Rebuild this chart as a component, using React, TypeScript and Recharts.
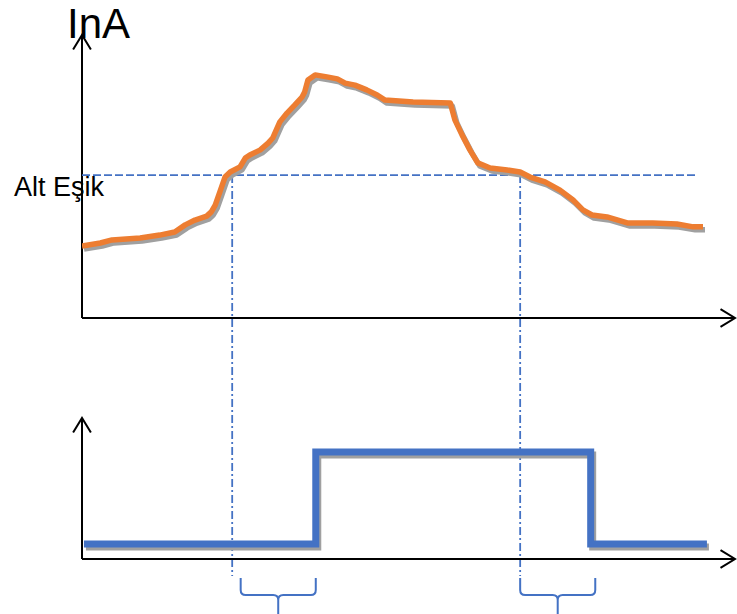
import { ComposedChart, Line, XAxis, YAxis, ReferenceLine } from 'recharts';

// current curve (time 0..100, InA arbitrary units)
const TIME = [
  0, 2.8, 4.6, 8.9, 11.9, 14.2, 15.8, 17.3, 19.1, 19.8, 20.4, 21.1, 21.9, 22.7, 24.2, 25.0, 25.7, 27.3,
  28.5, 29.2, 30.3, 31.4, 32.6, 33.7, 34.1, 34.6, 35.7, 37.5, 39.1, 40.3, 41.8, 43.6, 45.2, 46.4, 50.7,
  56.4, 57.1, 58.2, 59.4, 60.6, 62.5, 65.1, 67.1, 68.6, 70.9, 73.2, 75.2, 76.7, 78.1, 80.4, 83.5, 87.4,
  91.1, 93.6, 95.1,
];
const CURRENT = [
  25.4, 26.5, 27.6, 28.3, 29.3, 30.4, 32.9, 34.6, 36.0, 37.5, 39.9, 44.5, 49.8, 51.6, 53.4, 56.5, 57.6,
  59.4, 61.8, 63.6, 69.3, 72.4, 75.3, 78.1, 79.9, 84.1, 85.9, 85.2, 84.5, 83.0, 82.3, 80.6, 78.8, 77.0,
  76.3, 76.0, 70.0, 64.7, 59.4, 54.8, 53.0, 52.3, 51.6, 49.8, 48.1, 45.2, 41.7, 38.2, 36.4, 35.7, 33.6,
  33.6, 33.2, 32.2, 32.2,
];
const THRESHOLD = 50.5;
const THRESHOLD_LABEL = 'Alt Eşik';
const AXIS_LABEL = 'InA';

// relay output
const STEP_TIME = [0.3, 35.8, 77.9, 95.7];
const STEP_STATE = [0, 1, 0, 0];

// threshold crossings and delay braces
const CROSS_TIME = [23.0, 67.1];
const DELAY_START = [24.3, 67.1];
const DELAY_END = [35.8, 78.6];

// axis layout in data units
const INA_DOMAIN = [-104.6, 100];
const CROSS_BOTTOM = -91.2;
const STATE_DOMAIN = [-0.761, 5.533];
const STATE_AXIS = -0.163;
const STATE_AXIS_TOP = 1.37;
const BRACE_LEVEL = -0.37;

const ORANGE = '#ED7D31';
const BLUE = '#4472C4';
const SHADOW = '#A0A0A0';

const currentData = TIME.map((t, i) => ({ t, v: CURRENT[i] }));
const stepData = STEP_TIME.map((t, i) => ({ t, s: STEP_STATE[i] }));

function ArrowShape(props: any) {
  const { x1, y1, x2, y2 } = props;
  const a = Math.atan2(y2 - y1, x2 - x1);
  const len = 17;
  const spread = 0.55;
  const w1x = x2 - len * Math.cos(a - spread);
  const w1y = y2 - len * Math.sin(a - spread);
  const w2x = x2 - len * Math.cos(a + spread);
  const w2y = y2 - len * Math.sin(a + spread);
  return (
    <g>
      <line x1={x1} y1={y1} x2={x2} y2={y2} stroke="#000" strokeWidth={2} />
      <polyline
        points={`${w1x},${w1y} ${x2},${y2} ${w2x},${w2y}`}
        fill="none"
        stroke="#000"
        strokeWidth={2}
      />
    </g>
  );
}

function BraceShape(props: any) {
  const { x1, y1, x2 } = props;
  const left = Math.min(x1, x2);
  const right = Math.max(x1, x2);
  const mid = (left + right) / 2;
  const y = y1;
  const d =
    `M${left},${y} L${left},${y + 12} Q${left},${y + 17} ${left + 5},${y + 17} ` +
    `L${mid - 5},${y + 17} Q${mid},${y + 17} ${mid},${y + 22} L${mid},${y + 36} ` +
    `M${right},${y} L${right},${y + 12} Q${right},${y + 17} ${right - 5},${y + 17} ` +
    `L${mid + 5},${y + 17} Q${mid},${y + 17} ${mid},${y + 22}`;
  return <path d={d} fill="none" stroke={BLUE} strokeWidth={2} />;
}

export default function App() {
  return (
    <div style={{ position: 'absolute', left: 0, top: 0, width: 737, height: 614, background: '#fff' }}>
      <style>{`.shadow-shift { transform: translate(2px, 3px); }`}</style>
      <ComposedChart width={737} height={614} margin={{ top: 35, right: 2, bottom: 0, left: 82 }}>
        <XAxis type="number" dataKey="t" domain={[0, 100]} hide allowDataOverflow />
        <YAxis yAxisId="ina" type="number" domain={INA_DOMAIN} hide allowDataOverflow />
        <YAxis yAxisId="state" type="number" domain={STATE_DOMAIN} hide allowDataOverflow />

        {/* top panel axes */}
        <ReferenceLine
          yAxisId="ina"
          segment={[{ x: 0, y: 0 }, { x: 0, y: 100 }]}
          shape={ArrowShape}
          label={(p: any) => (
            <text
              x={p.viewBox.x - 15}
              y={p.viewBox.y + 3}
              fontFamily="Liberation Sans, Arial, sans-serif"
              fontSize={42}
              fill="#000"
            >
              {AXIS_LABEL}
            </text>
          )}
        />
        <ReferenceLine yAxisId="ina" segment={[{ x: 0, y: 0 }, { x: 100, y: 0 }]} shape={ArrowShape} />

        {/* threshold */}
        <ReferenceLine
          yAxisId="ina"
          segment={[{ x: 0, y: THRESHOLD }, { x: 94.2, y: THRESHOLD }]}
          stroke={BLUE}
          strokeWidth={1.8}
          strokeDasharray="8 3"
          label={(p: any) => (
            <text
              x={p.viewBox.x - 68}
              y={p.viewBox.y + 21}
              fontFamily="Liberation Sans, Arial, sans-serif"
              fontSize={27}
              fill="#000"
            >
              {THRESHOLD_LABEL}
            </text>
          )}
        />
        {CROSS_TIME.map((t) => (
          <ReferenceLine
            key={t}
            yAxisId="ina"
            segment={[{ x: t, y: THRESHOLD }, { x: t, y: CROSS_BOTTOM }]}
            stroke={BLUE}
            strokeWidth={1.8}
            strokeDasharray="8 3 2 3"
          />
        ))}

        {/* bottom panel axes */}
        <ReferenceLine
          yAxisId="state"
          segment={[{ x: 0, y: STATE_AXIS }, { x: 0, y: STATE_AXIS_TOP }]}
          shape={ArrowShape}
        />
        <ReferenceLine
          yAxisId="state"
          segment={[{ x: 0, y: STATE_AXIS }, { x: 100, y: STATE_AXIS }]}
          shape={ArrowShape}
        />
        {DELAY_START.map((t, i) => (
          <ReferenceLine
            key={t}
            yAxisId="state"
            segment={[{ x: t, y: BRACE_LEVEL }, { x: DELAY_END[i], y: BRACE_LEVEL }]}
            shape={BraceShape}
          />
        ))}

        <Line
          yAxisId="ina"
          data={currentData}
          dataKey="v"
          type="linear"
          stroke={SHADOW}
          strokeWidth={5.5}
          strokeLinejoin="round"
          dot={false}
          className="shadow-shift"
          isAnimationActive={false}
        />
        <Line
          yAxisId="ina"
          data={currentData}
          dataKey="v"
          type="linear"
          stroke={ORANGE}
          strokeWidth={5.5}
          strokeLinejoin="round"
          dot={false}
          isAnimationActive={false}
        />
        <Line
          yAxisId="state"
          data={stepData}
          dataKey="s"
          type="stepAfter"
          stroke={SHADOW}
          strokeWidth={7}
          dot={false}
          className="shadow-shift"
          isAnimationActive={false}
        />
        <Line
          yAxisId="state"
          data={stepData}
          dataKey="s"
          type="stepAfter"
          stroke={BLUE}
          strokeWidth={7}
          dot={false}
          isAnimationActive={false}
        />
      </ComposedChart>
    </div>
  );
}
